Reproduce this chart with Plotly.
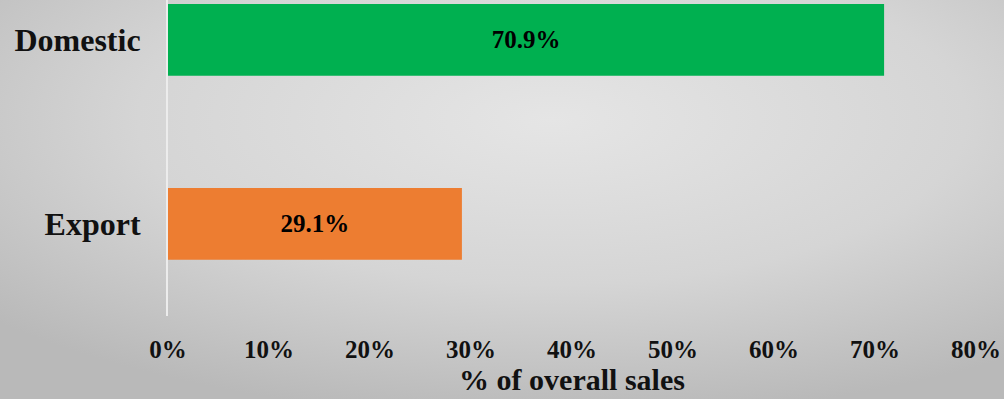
import base64
import plotly.graph_objects as go

categories = ["Export", "Domestic"]
shares = [0.291, 0.709]
bar_colors = ["#ED7D31", "#00B050"]
x_tick_vals = [0, 0.1, 0.2, 0.3, 0.4, 0.5, 0.6, 0.7, 0.8]
x_title = "% of overall sales"

W, H = 1004, 399
ML, MR, MT, MB = 168, 28, 0, 83
pw, ph = W - ML - MR, H - MT - MB

svg = (
    '<svg xmlns="http://www.w3.org/2000/svg" width="1004" height="399">'
    '<defs><radialGradient id="g" cx="55%" cy="30%" r="75%">'
    '<stop offset="0%" stop-color="#e5e5e5"/>'
    '<stop offset="55%" stop-color="#d5d5d5"/>'
    '<stop offset="100%" stop-color="#b9b9b9"/>'
    '</radialGradient></defs>'
    '<rect width="1004" height="399" fill="url(#g)"/></svg>'
)
src = "data:image/svg+xml;base64," + base64.b64encode(svg.encode()).decode()

font_family = "Liberation Serif, Times New Roman, serif"

fig = go.Figure(
    go.Bar(
        x=shares,
        y=categories,
        orientation="h",
        marker=dict(color=bar_colors, line=dict(width=0)),
        width=0.39,
        texttemplate="%{x:.1%}",
        textposition="inside",
        insidetextanchor="middle",
        textfont=dict(family=font_family, size=25, color="black", weight="bold"),
        hoverinfo="skip",
    )
)

fig.update_layout(
    width=W,
    height=H,
    margin=dict(l=ML, r=MR, t=MT, b=MB, autoexpand=False),
    paper_bgcolor="#d0d0d0",
    plot_bgcolor="rgba(0,0,0,0)",
    showlegend=False,
    images=[
        dict(
            source=src,
            xref="paper",
            yref="paper",
            x=-ML / pw,
            y=1 + MT / ph,
            sizex=W / pw,
            sizey=H / ph,
            sizing="stretch",
            xanchor="left",
            yanchor="top",
            layer="below",
        )
    ],
)

fig.update_xaxes(
    range=[0, 0.8],
    tickvals=x_tick_vals,
    tickformat=".0%",
    showgrid=False,
    zeroline=False,
    showline=False,
    ticks="",
    ticklabelstandoff=16,
    tickfont=dict(family=font_family, size=25, color="#111111", weight="bold"),
    title=dict(
        text=x_title,
        font=dict(family=font_family, size=30, color="#111111", weight="bold"),
        standoff=6,
    ),
    automargin=False,
)

fig.update_yaxes(
    range=[-0.5, 1.217],
    showgrid=False,
    zeroline=False,
    showline=True,
    linecolor="#ececec",
    linewidth=2,
    ticks="",
    ticklabelstandoff=19,
    tickfont=dict(family=font_family, size=32, color="#111111", weight="bold"),
    automargin=False,
)

fig.write_html("out.html")
